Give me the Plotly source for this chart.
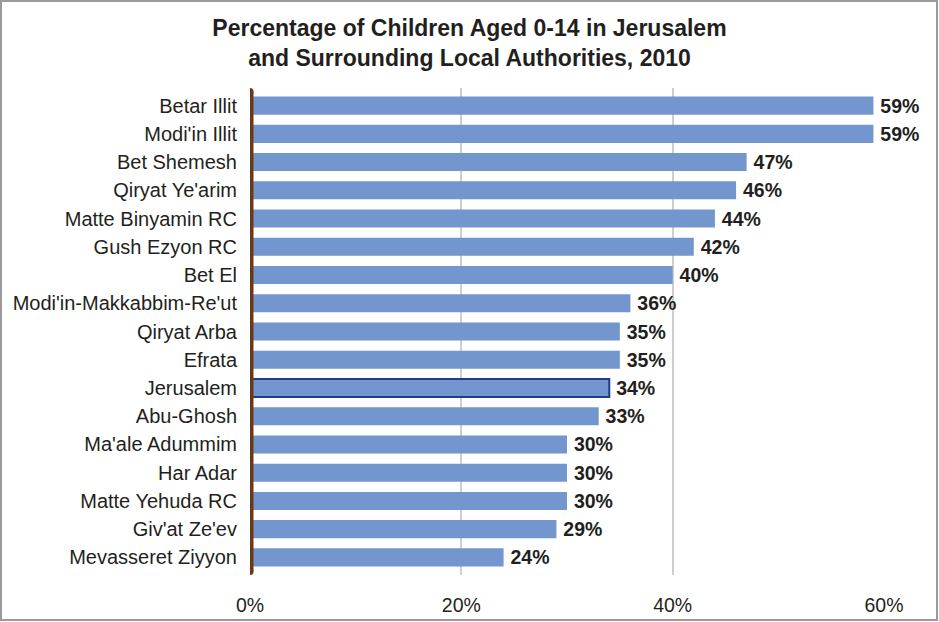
import plotly.graph_objects as go

# data, top to bottom as in the chart
places = [
    "Betar Illit", "Modi'in Illit", "Bet Shemesh", "Qiryat Ye'arim",
    "Matte Binyamin RC", "Gush Ezyon RC", "Bet El", "Modi'in-Makkabbim-Re'ut",
    "Qiryat Arba", "Efrata", "Jerusalem", "Abu-Ghosh", "Ma'ale Adummim",
    "Har Adar", "Matte Yehuda RC", "Giv'at Ze'ev", "Mevasseret Ziyyon",
]
children_pct = [59, 59, 47, 46, 44, 42, 40, 36, 35, 35, 34, 33, 30, 30, 30, 29, 24]
x_ticks = [0, 20, 40, 60]
x_tick_labels = ["0%", "20%", "40%", "60%"]
highlight = "Jerusalem"

W, H = 939, 622
L, R, T, B = 250, 55, 88, 47
pw, ph = W - L - R, H - T - B

bar_color = "#7396CE"
line_colors = ["#1F3C8C" if p == highlight else bar_color for p in places]
line_widths = [2 if p == highlight else 0 for p in places]

fig = go.Figure(
    go.Bar(
        x=children_pct,
        y=places,
        orientation="h",
        marker=dict(color=bar_color, line=dict(color=line_colors, width=line_widths)),
        text=[f"{v}%" for v in children_pct],
        textposition="outside",
        constraintext="none",
        textfont=dict(size=19.5, color="#231F20"),
        texttemplate="\u2009<b>%{text}</b>",
        cliponaxis=False,
        width=0.64,
    )
)

brown = "#6A3A18"
shapes = [
    # brown category axis with rounded ends
    dict(type="line", xref="x", yref="y", x0=0, x1=0, y0=-0.5, y1=len(places) - 0.5,
         line=dict(color=brown, width=7), layer="above"),
]
for yv in (-0.5, len(places) - 0.5):
    shapes.append(dict(type="circle", xref="x", yref="y", xsizemode="pixel", ysizemode="pixel",
                       xanchor=0, yanchor=yv, x0=-3.5, x1=3.5, y0=-3.5, y1=3.5,
                       fillcolor=brown, line=dict(width=0), layer="above"))
# frame around the whole picture
shapes.append(dict(type="rect", xref="paper", yref="paper",
                   x0=(1 - L) / pw, x1=(W - 2 - L) / pw,
                   y0=(T + ph - (H - 2)) / ph, y1=(T + ph - 1) / ph,
                   line=dict(color="#9A9A9C", width=2)))

fig.update_layout(
    width=W,
    height=H,
    margin=dict(l=L, r=R, t=T, b=B),
    plot_bgcolor="white",
    paper_bgcolor="white",
    font=dict(family="Liberation Sans, Arial, sans-serif", color="#231F20", size=19.5),
    title=dict(
        text="<b>Percentage of Children Aged 0-14 in Jerusalem<br>and Surrounding Local Authorities, 2010</b>",
        x=0.5, xref="container", xanchor="center", y=1 - 36 / H, yanchor="top",
        font=dict(size=23, color="#231F20"),
    ),
    xaxis=dict(
        range=[0, 60],
        tickvals=x_ticks,
        ticktext=x_tick_labels,
        showgrid=True,
        gridcolor="#CFCFCF",
        gridwidth=2,
        zeroline=False,
        showline=False,
        ticks="",
        ticklabelstandoff=16,
        automargin=False,
        tickfont=dict(size=19.5, color="#231F20"),
    ),
    yaxis=dict(
        categoryorder="array",
        categoryarray=places,
        autorange="reversed",
        showgrid=False,
        zeroline=False,
        showline=False,
        ticks="",
        ticklabelstandoff=12,
        automargin=False,
        tickfont=dict(size=20, color="#231F20"),
    ),
    shapes=shapes,
    showlegend=False,
)

fig.write_html("out.html", config={"displayModeBar": False},
               post_script="document.body.style.margin='0';")
